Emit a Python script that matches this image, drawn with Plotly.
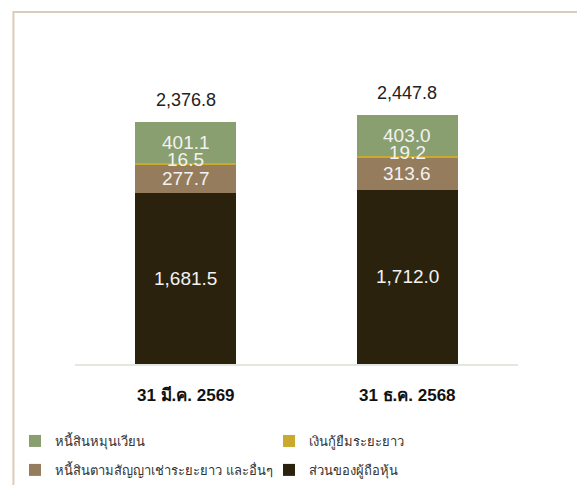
import plotly.graph_objects as go

categories = ["31 มี.ค. 2569", "31 ธ.ค. 2568"]
series_names = ["ส่วนของผู้ถือหุ้น", "หนี้สินตามสัญญาเช่าระยะยาว และอื่นๆ", "เงินกู้ยืมระยะยาว", "หนี้สินหมุนเวียน"]
equity = [1681.5, 1712.0]
lease = [277.7, 313.6]
longterm_loans = [16.5, 19.2]
current_liab = [401.1, 403.0]
totals = [2376.8, 2447.8]
total_labels = ["2,376.8", "2,447.8"]

colors = ["#2a220d", "#957c5c", "#c9aa2e", "#8a9f6f"]
series = [equity, lease, longterm_loans, current_liab]
legend_ids = ["legend2", "legend2", "legend", "legend"]
label_shift = [0, 0, 4, 0]

FONT = "Liberation Sans, Arial, Noto Sans, sans-serif"

fig = go.Figure()
for name, vals, col, lg in zip(series_names, series, colors, legend_ids):
    fig.add_trace(go.Bar(
        x=categories, y=vals, name=name, legend=lg,
        marker=dict(color=col, line=dict(width=0)),
        hoverinfo="x+y+name",
    ))

annotations = []
for i, cat in enumerate(categories):
    cum = 0
    for vals, ys in zip(series, label_shift):
        v = vals[i]
        annotations.append(dict(
            x=cat, y=cum + v / 2, text=f"{v:,.1f}", showarrow=False,
            yshift=ys,
            font=dict(size=19, color="#f2f2f2", family=FONT),
            xref="x", yref="y",
        ))
        cum += v
    annotations.append(dict(
        x=cat, y=totals[i], text=total_labels[i], showarrow=False,
        yanchor="bottom", yshift=10,
        font=dict(size=18, color="#222222", family=FONT),
        xref="x", yref="y",
    ))

legend_common = dict(
    orientation="h", xanchor="left", yanchor="middle",
    traceorder="reversed", entrywidth=209, entrywidthmode="pixels",
    font=dict(size=13, color="#333333", family=FONT),
    bgcolor="rgba(0,0,0,0)",
)

# plot area: x 75..518, y 40..364
fig.update_layout(
    width=577, height=485,
    margin=dict(l=75, r=59, t=40, b=121, autoexpand=False),
    barmode="stack",
    bargap=0.545,
    plot_bgcolor="white", paper_bgcolor="white",
    font=dict(family=FONT, color="#333333"),
    xaxis=dict(
        showgrid=False, zeroline=False,
        showline=True, linecolor="#e2e8e0", linewidth=2,
        tickfont=dict(size=17, color="#111111", family=FONT),
        ticks="", ticklabelstandoff=15,
        tickvals=categories,
        ticktext=[f"<b>{c}</b>" for c in categories],
    ),
    yaxis=dict(visible=False, range=[0, 3182]),
    showlegend=True,
    legend=dict(x=-0.1354, y=-0.2377, **legend_common),
    legend2=dict(x=-0.1354, y=-0.327, **legend_common),
    annotations=annotations,
    shapes=[dict(
        type="rect", xref="paper", yref="paper",
        x0=-0.139, x1=1.2, y0=-0.5, y1=1.0864,
        line=dict(color="#d9ccb9", width=2), fillcolor="rgba(0,0,0,0)",
        layer="below",
    )],
)

fig.write_html(
    "out.html",
    config={"displayModeBar": False},
    post_script="document.body.style.margin='0px';",
)
